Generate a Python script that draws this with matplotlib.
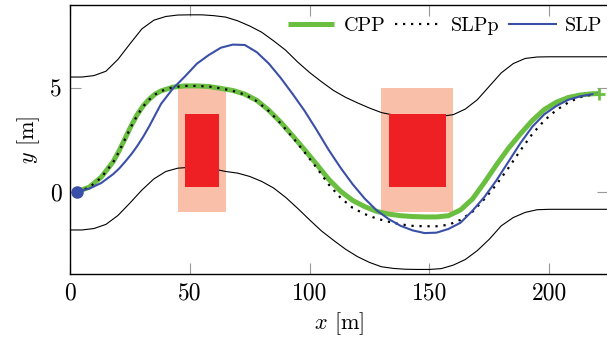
import matplotlib
matplotlib.use('Agg')
import matplotlib.pyplot as plt
from matplotlib.patches import Rectangle

# ---- data ----
bound_x = [0, 5, 10, 15, 20, 25, 30, 35, 40, 45, 50, 55, 60, 65, 70, 75, 80, 85, 90, 95,
           100, 105, 110, 115, 120, 125, 130, 135, 140, 145, 150, 155, 160, 165, 170, 175,
           180, 185, 190, 195, 200, 225]
upper_y = [5.55, 5.55, 5.62, 5.83, 6.4, 7.15, 7.88, 8.3, 8.48, 8.55, 8.56, 8.56, 8.52, 8.45,
           8.27, 8.02, 7.72, 7.3, 6.85, 6.28, 5.77, 5.32, 4.9, 4.57, 4.3, 4.05, 3.83, 3.71,
           3.65, 3.63, 3.63, 3.65, 3.73, 4.0, 4.45, 5.1, 5.75, 6.2, 6.45, 6.52, 6.53, 6.53]
lower_y = [-1.85, -1.85, -1.78, -1.58, -1.15, -0.55, 0.08, 0.62, 0.98, 1.14, 1.18, 1.17,
           1.1, 0.98, 0.9, 0.74, 0.5, 0.18, -0.27, -0.8, -1.36, -1.9, -2.35, -2.78, -3.14,
           -3.42, -3.63, -3.71, -3.75, -3.76, -3.76, -3.72, -3.55, -3.28, -2.85, -2.3,
           -1.65, -1.25, -1.0, -0.87, -0.85, -0.85]

traj_x = [3, 8, 13, 18, 20.5, 23, 25.5, 28, 30.5, 33, 35.5, 38, 43, 48, 53, 58, 63, 68, 73,
          78, 83, 88, 93, 98, 103, 108, 113, 118, 123, 128, 133, 138, 143, 148, 153, 158,
          163, 168, 173, 178, 183, 188, 193, 198, 203, 208, 213, 218, 221]
cpp_y = [0.0, 0.22, 0.7, 1.45, 1.98, 2.58, 3.18, 3.72, 4.15, 4.47, 4.72, 4.88, 5.06, 5.12,
         5.12, 5.09, 5.0, 4.9, 4.72, 4.42, 3.94, 3.36, 2.7, 2.02, 1.32, 0.6, 0.02, -0.42,
         -0.72, -0.95, -1.08, -1.16, -1.2, -1.22, -1.22, -1.16, -0.88, -0.35, 0.45, 1.3,
         2.1, 2.8, 3.45, 3.98, 4.33, 4.56, 4.68, 4.74, 4.75]
slpp_y = [0.0, 0.2, 0.68, 1.42, 1.95, 2.55, 3.15, 3.68, 4.12, 4.45, 4.7, 4.87, 5.06, 5.12,
          5.12, 5.09, 5.0, 4.88, 4.7, 4.38, 3.9, 3.3, 2.62, 1.9, 1.15, 0.35, -0.3, -0.78,
          -1.08, -1.3, -1.45, -1.58, -1.65, -1.67, -1.67, -1.6, -1.36, -0.97, -0.35, 0.35,
          1.15, 2.0, 2.8, 3.45, 3.95, 4.32, 4.58, 4.7, 4.73]
slp_y = [0.0, 0.15, 0.42, 0.85, 1.12, 1.45, 1.8, 2.2, 2.65, 3.15, 3.7, 4.25, 5.0, 5.58,
         6.2, 6.62, 6.97, 7.12, 7.1, 6.75, 6.2, 5.5, 4.72, 3.9, 2.98, 2.02, 1.15, 0.36,
         -0.33, -0.9, -1.32, -1.65, -1.87, -2.0, -1.98, -1.8, -1.5, -0.92, -0.25, 0.55,
         1.45, 2.35, 3.15, 3.75, 4.15, 4.45, 4.62, 4.72, 4.75]

# obstacles: (x, y, width, height) of safety area and body
safe_boxes = [(45, -1.0, 20, 6.0), (130, -1.0, 30, 6.0)]
body_boxes = [(48, 0.25, 14, 3.5), (133, 0.25, 24, 3.5)]

plt.rcParams['font.family'] = 'cmr10'
plt.rcParams['mathtext.fontset'] = 'cm'
plt.rcParams['axes.unicode_minus'] = False

fig = plt.figure(figsize=(6.07, 3.41), dpi=100)
ax = fig.add_axes([0.1153, 0.1965, 0.8857, 0.7885])

for bx, by, bw, bh in safe_boxes:
    ax.add_patch(Rectangle((bx, by), bw, bh, facecolor='#f9bfa8', edgecolor='none', zorder=1))
ax.plot(bound_x, upper_y, color='black', lw=0.8, zorder=2, solid_joinstyle='round')
ax.plot(bound_x, lower_y, color='black', lw=0.8, zorder=2, solid_joinstyle='round')
for bx, by, bw, bh in body_boxes:
    ax.add_patch(Rectangle((bx, by), bw, bh, facecolor='#ee2024', edgecolor='none', zorder=3))

ax.plot(traj_x, cpp_y, color='#6abf40', lw=3.6, solid_capstyle='butt',
        solid_joinstyle='round', label='CPP', zorder=4)
ax.plot(traj_x, slpp_y, color='black', lw=1.6, linestyle=(0, (1, 2.6)), label='SLPp', zorder=5)
ax.plot(traj_x, slp_y, color='#3a4fa8', lw=1.5, solid_joinstyle='round', label='SLP', zorder=6)
ax.plot(traj_x[0], slp_y[0], 'o', color='#3a4fa8', ms=8, zorder=7)
ax.plot(traj_x[-1], cpp_y[-1], '+', color='#6abf40', ms=8, mew=2, zorder=7)

ax.set_xlim(0, 224.4)
ax.set_ylim(-3.98, 9.03)
ax.set_xticks([0, 50, 100, 150, 200])
ax.set_yticks([0, 5])
ax.tick_params(direction='in', length=8, width=0.8, color='#999999', labelsize=17,
               top=True, right=True, pad=6)
for s in ax.spines.values():
    s.set_linewidth(1.0)

ax.set_xlabel('$x$ [m]', fontsize=16, labelpad=4)
ax.set_ylabel('$y$ [m]', fontsize=16, labelpad=6)

ax.legend(loc='upper right', ncol=3, frameon=False, fontsize=14.5, handlelength=2.3,
          columnspacing=0.5, handletextpad=0.45, borderaxespad=0.2,
          bbox_to_anchor=(1.012, 1.0))

fig.savefig('out.png', dpi=100)
